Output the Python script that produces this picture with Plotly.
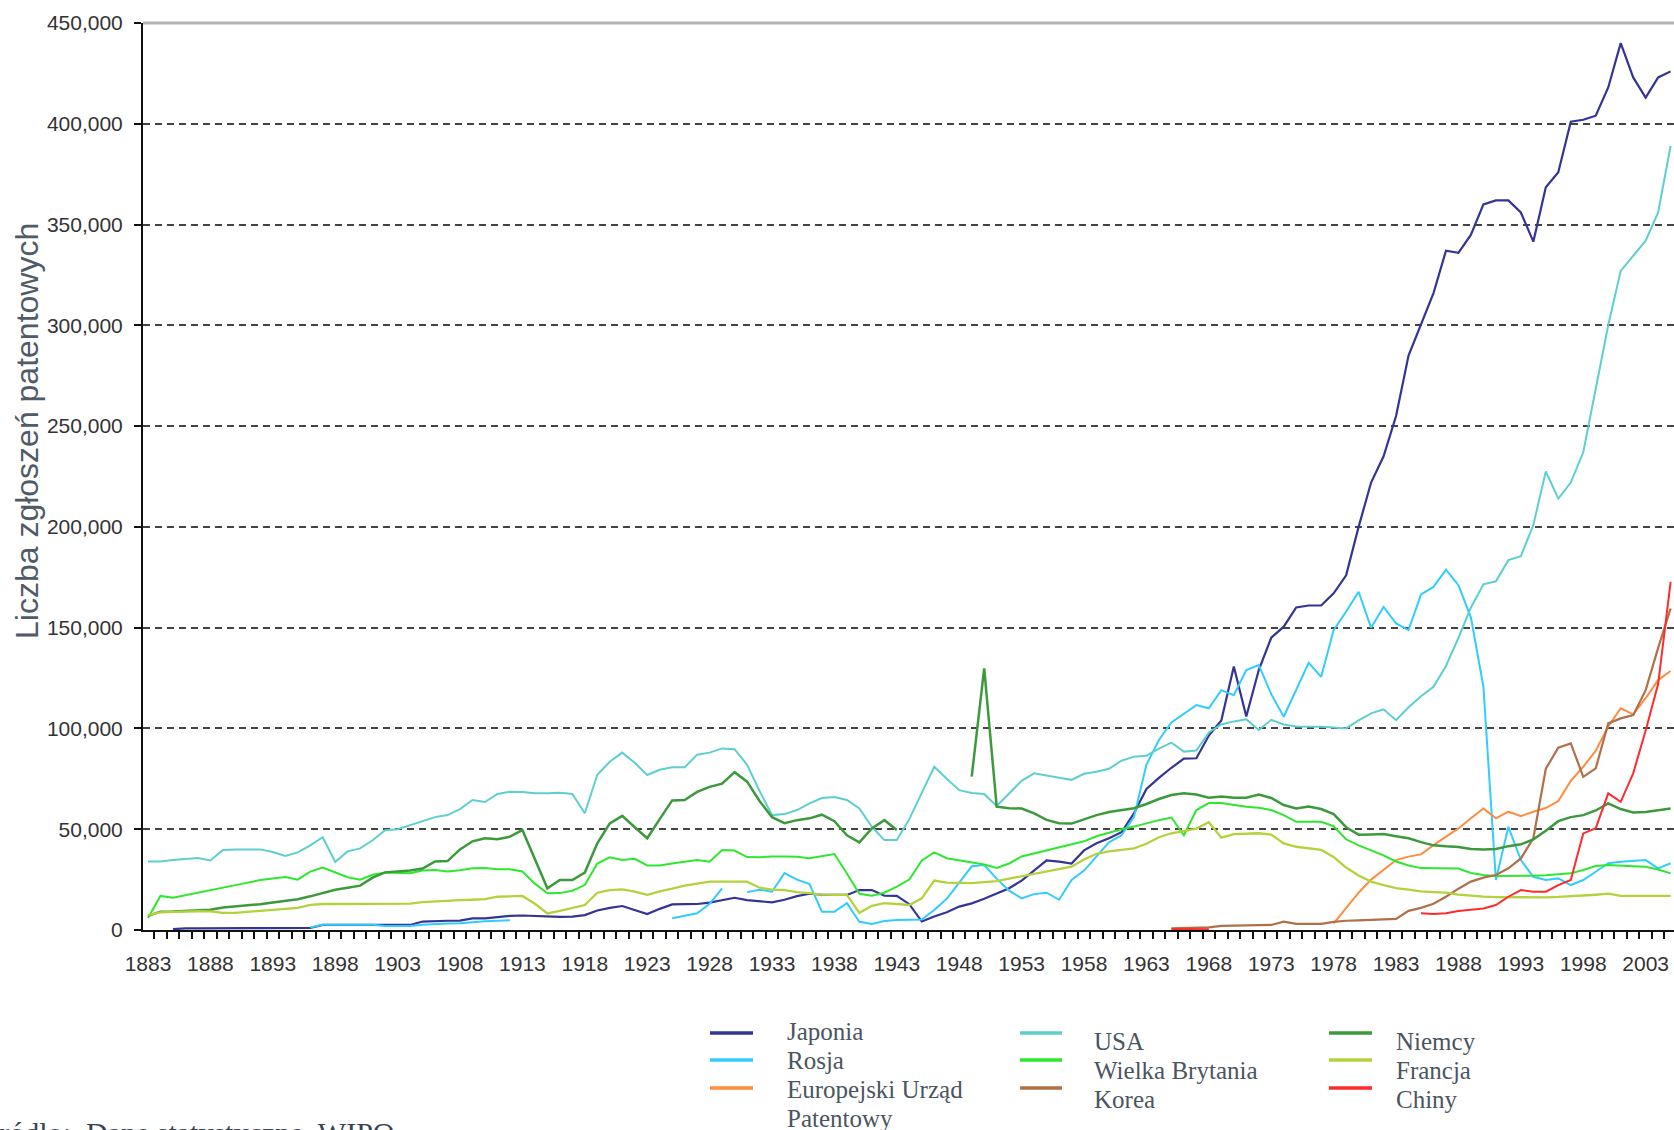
import plotly.graph_objects as go

# ---------------- DATA (patent applications, thousands) ----------------
japonia_start = 1885
japonia = [
    0.4, 0.8, 0.8, 0.9, 0.9, 0.9, 0.9, 0.9, 0.9, 0.9,          # 1885-1894
    0.9, 1.0, 2.5, 2.5, 2.5, 2.5, 2.5, 2.3, 2.3, 2.5,          # 1895-1904
    4.2, 4.5, 4.6, 4.7, 5.8, 5.8, 6.4, 7.0, 7.2, 7.0,          # 1905-1914
    6.5, 6.5, 6.6, 7.4, 9.7, 11.0, 11.9, 10.0, 7.9, 10.5,      # 1915-1924
    12.7, 12.8, 12.9, 13.6, 14.8, 16.0, 14.8, 14.2, 13.7, 15.0,  # 1925-1934
    16.8, 18.0, 17.5, 17.4, 17.4, 19.8, 19.8, 17.0, 16.9, 12.8,  # 1935-1944
    4.2, 6.7, 8.8, 11.6, 13.2, 15.5, 18.2, 20.7, 24.5, 29.5,     # 1945-1954
    34.5, 33.9, 33.0, 39.5, 43.0, 45.5, 48.5, 57.9, 70.0, 75.5,  # 1955-1964
    80.5, 85.0, 85.2, 96.5, 104.0, 130.7, 105.9, 129.0, 145.0, 150.5,  # 1965-1974
    160.0, 161.0, 161.0, 167.0, 176.0, 200.0, 222.0, 235.0, 255.0, 285.0,  # 1975-1984
    301.0, 316.0, 337.0, 336.0, 345.0, 360.0, 362.0, 362.0, 356.0, 341.5,  # 1985-1994
    368.5, 376.0, 401.0, 402.0, 404.0, 418.0, 440.0, 423.0, 413.0, 423.0,  # 1995-2004
    426.0,                                                       # 2005
]

rosja_start = 1896
rosja = [
    1.2, 2.6, 2.6, 2.6, 2.6, 2.6, 2.0, 2.0, 2.0, 2.6,           # 1896-1905
    3.0, 3.2, 3.4, 4.0, 4.4, 4.6, 4.8, None, None, None,        # 1906-1915
    None, None, None, None, None, None, None, None, None, 5.8,  # 1916-1925
    7.0, 8.3, 13.0, 20.7, None, 18.8, 20.0, 19.0, 28.2, 25.0,   # 1926-1935
    22.8, 9.1, 9.1, 13.3, 4.1, 3.0, 4.5, 5.0, 5.0, 5.2,         # 1936-1945
    9.9, 15.5, 23.5, 31.6, 32.2, 25.5, 19.5, 15.7, 17.8, 18.5,  # 1946-1955
    15.0, 24.8, 29.5, 36.5, 43.5, 47.0, 56.0, 82.0, 94.3, 103.0,  # 1956-1965
    107.5, 111.6, 110.0, 119.0, 116.5, 129.0, 131.5, 117.0, 105.8, 119.0,  # 1966-1975
    132.6, 125.6, 148.8, 158.0, 167.8, 150.0, 160.3, 152.1, 148.8, 166.5,  # 1976-1985
    170.2, 178.8, 171.1, 155.0, 120.7, 24.8, 51.2, 34.7, 26.4, 24.8,       # 1986-1995
    25.6, 22.3, 24.8, 28.9, 33.1, 33.9, 34.3, 34.7, 30.6, 33.1,            # 1996-2005
]

epo_start = 1978
epo = [
    3.3, 10.7, 18.5, 25.0, 29.8, 34.7, 36.4, 37.5, 42.1, 46.3,  # 1978-1987
    50.4, 55.4, 60.3, 55.4, 58.7, 56.5, 58.7, 60.5, 64.0, 74.0,  # 1988-1997
    81.0, 89.0, 101.0, 110.0, 107.0, 115.0, 124.0, 128.5,        # 1998-2005
]

usa_start = 1883
usa = [
    34.0, 34.0, 34.7, 35.3, 35.7, 34.5, 39.7, 40.0, 40.0, 40.0,  # 1883-1892
    38.7, 36.7, 38.5, 42.0, 46.0, 33.8, 39.0, 40.5, 44.5, 49.5,  # 1893-1902
    50.0, 52.0, 54.3, 56.0, 57.0, 60.0, 64.5, 63.5, 67.5, 68.6,  # 1903-1912
    68.5, 67.8, 67.8, 68.1, 67.5, 57.9, 77.0, 83.5, 88.0, 83.0,  # 1913-1922
    76.9, 79.5, 80.7, 80.7, 87.0, 88.0, 90.1, 89.7, 82.0, 69.0,  # 1923-1932
    57.0, 57.5, 59.5, 62.8, 65.5, 66.0, 64.5, 60.3, 51.2, 44.6,  # 1933-1942
    44.6, 55.0, 68.0, 81.0, 75.0, 69.4, 68.0, 67.5, 61.5, 68.0,  # 1943-1952
    74.0, 77.7, 76.5, 75.5, 74.5, 77.5, 78.5, 80.0, 84.0, 86.0,  # 1953-1962
    86.5, 90.0, 93.0, 88.5, 89.0, 98.0, 102.0, 103.5, 104.5, 99.2,  # 1963-1972
    104.3, 102.0, 101.0, 101.0, 100.8, 100.5, 100.0, 104.0, 107.5, 109.5,  # 1973-1982
    104.1, 110.5, 116.0, 120.7, 131.0, 145.0, 160.0, 171.5, 173.0, 183.5,  # 1983-1992
    185.5, 201.0, 227.5, 214.0, 222.0, 237.0, 268.0, 300.0, 327.0, 334.5,  # 1993-2002
    342.0, 356.0, 389.0,                                                   # 2003-2005
]

wb_start = 1883
wielka_brytania = [
    6.0, 16.9, 16.0, 17.2, 18.5, 19.8, 21.0, 22.3, 23.5, 24.8,   # 1883-1892
    25.7, 26.3, 25.0, 29.0, 31.0, 28.5, 26.2, 25.0, 27.4, 28.5,  # 1893-1902
    28.3, 28.2, 29.5, 29.8, 29.0, 29.6, 30.6, 30.8, 30.2, 30.1,  # 1903-1912
    29.0, 23.0, 18.2, 18.3, 19.5, 22.3, 33.0, 36.1, 34.7, 35.3,  # 1913-1922
    32.0, 32.0, 33.0, 33.8, 34.7, 33.9, 39.7, 39.4, 36.2, 36.1,  # 1923-1932
    36.5, 36.5, 36.3, 35.6, 36.5, 37.7, 28.0, 18.0, 17.0, 18.5,  # 1933-1942
    21.5, 25.0, 34.5, 38.5, 35.6, 34.5, 33.3, 32.5, 30.8, 33.0,  # 1943-1952
    36.5, 38.0, 39.4, 41.0, 42.2, 44.0, 46.5, 48.2, 50.0, 51.3,  # 1953-1962
    53.0, 54.5, 55.8, 47.0, 59.5, 63.0, 63.0, 62.0, 61.2, 60.6,  # 1963-1972
    59.5, 57.0, 53.7, 53.7, 53.7, 51.5, 45.0, 42.0, 39.5, 37.0,  # 1973-1982
    34.0, 32.0, 30.7, 30.6, 30.6, 30.5, 28.3, 27.3, 26.8, 26.8,  # 1983-1992
    26.8, 26.9, 27.2, 27.6, 28.1, 29.8, 31.7, 32.2, 31.8, 31.6,  # 1993-2002
    31.4, 30.0, 28.1,                                            # 2003-2005
]

korea_start = 1965
korea = [
    0.8, 0.9, 1.0, 1.3, 2.0, 2.1, 2.1, 2.1, 2.5, 4.1,            # 1965-1974
    3.0, 3.0, 3.0, 4.0, 4.6, 4.8, 5.0, 5.1, 5.5, 9.5,            # 1975-1984
    11.0, 13.0, 16.5, 20.5, 24.0, 26.0, 27.3, 30.6, 35.5, 45.5,  # 1985-1994
    80.0, 90.5, 92.6, 76.0, 80.2, 102.5, 105.0, 106.6, 119.0, 140.0,  # 1995-2004
    159.5,                                                        # 2005
]

niemcy_start = 1883
niemcy = [
    7.0, 9.1, 9.2, 9.5, 9.7, 10.0, 11.2, 11.7, 12.3, 12.8,       # 1883-1892
    13.7, 14.6, 15.3, 16.7, 18.5, 20.0, 21.0, 22.0, 26.0, 28.6,  # 1893-1902
    29.0, 29.5, 30.5, 34.0, 34.2, 40.0, 44.0, 45.5, 45.0, 46.3,  # 1903-1912
    49.6, 35.0, 20.7, 24.8, 24.8, 28.5, 43.0, 52.9, 56.6, 51.0,  # 1913-1922
    45.5, 55.0, 64.3, 64.5, 68.5, 71.0, 72.6, 78.3, 73.6, 64.0,  # 1923-1932
    56.0, 53.0, 54.5, 55.4, 57.2, 54.0, 47.0, 43.5, 50.4, 54.5,  # 1933-1942
    49.6, None, None, None, None, None, 76.1, 129.8, 61.2, 60.4, # 1943-1952
    60.3, 57.9, 54.6, 53.0, 52.8, 55.0, 57.0, 58.5, 59.5, 60.4,  # 1953-1962
    62.5, 65.0, 67.0, 67.8, 67.2, 65.6, 66.2, 65.6, 65.6, 67.2,  # 1963-1972
    65.5, 62.0, 60.3, 61.3, 60.0, 57.5, 51.0, 47.3, 47.4, 47.6,  # 1973-1982
    46.5, 45.5, 43.6, 42.0, 41.5, 41.2, 40.2, 40.0, 40.2, 41.6,  # 1983-1992
    42.5, 45.0, 49.2, 54.0, 56.0, 57.0, 59.3, 62.8, 60.0, 58.3,  # 1993-2002
    58.6, 59.3, 60.3,                                            # 2003-2005
]

francja_start = 1883
francja = [
    7.5, 8.7, 9.0, 9.2, 9.3, 9.2, 8.5, 8.5, 9.0, 9.5,            # 1883-1892
    9.8, 10.3, 11.0, 12.5, 12.9, 12.9, 12.9, 12.9, 12.9, 12.9,   # 1893-1902
    12.9, 13.1, 13.8, 14.2, 14.4, 14.8, 15.0, 15.3, 16.5, 16.8,  # 1903-1912
    16.9, 13.0, 8.2, 9.5, 11.0, 12.4, 18.5, 19.8, 20.2, 19.0,    # 1913-1922
    17.4, 19.2, 20.5, 22.0, 23.0, 24.0, 24.0, 24.0, 24.0, 21.0,  # 1923-1932
    20.0, 19.8, 18.8, 18.3, 17.6, 17.4, 17.4, 8.5, 12.0, 13.3,   # 1933-1942
    13.0, 12.4, 15.7, 24.5, 23.5, 23.3, 23.3, 23.8, 24.2, 25.5,  # 1943-1952
    26.7, 27.8, 28.9, 30.0, 31.4, 35.0, 37.8, 39.0, 39.8, 40.5,  # 1953-1962
    42.8, 46.0, 48.0, 49.2, 50.3, 53.5, 45.8, 47.6, 47.8, 48.0,  # 1963-1972
    47.3, 43.0, 41.3, 40.5, 39.7, 36.2, 31.0, 27.0, 24.0, 22.3,  # 1973-1982
    20.8, 20.0, 19.2, 18.8, 18.5, 17.6, 17.0, 16.6, 16.3, 16.2,  # 1983-1992
    16.2, 16.2, 16.2, 16.4, 16.7, 16.9, 17.5, 18.0, 16.9, 16.9,  # 1993-2002
    16.9, 16.9, 16.9,                                            # 2003-2005
]

chiny_start = 1965
chiny = [
    0.4, 0.4, 0.4, 0.4, None, None, None, None, None, None,      # 1965-1974
    None, None, None, None, None, None, None, None, None, None,  # 1975-1984
    8.3, 7.9, 8.3, 9.4, 10.0, 10.7, 12.4, 16.5, 19.8, 19.0,      # 1985-1994
    19.0, 22.3, 24.8, 47.9, 50.5, 67.8, 63.6, 77.7, 99.0, 122.0, # 1995-2004
    172.7,                                                       # 2005
]

y_ticks = [0, 50000, 100000, 150000, 200000, 250000, 300000, 350000, 400000, 450000]
x_label_years = list(range(1883, 2004, 5))

SERIES = [
    ("Japonia", japonia_start, japonia),
    ("Rosja", rosja_start, rosja),
    ("Europejski Urząd Patentowy", epo_start, epo),
    ("USA", usa_start, usa),
    ("Wielka Brytania", wb_start, wielka_brytania),
    ("Korea", korea_start, korea),
    ("Niemcy", niemcy_start, niemcy),
    ("Francja", francja_start, francja),
    ("Chiny", chiny_start, chiny),
]

# ---------------- STYLE ----------------
STYLE = {
    "Japonia": dict(color="#343497", width=2.2),
    "Rosja": dict(color="#33ccff", width=2),
    "Europejski Urząd Patentowy": dict(color="#ff8c40", width=2),
    "USA": dict(color="#5ecfcf", width=2),
    "Wielka Brytania": dict(color="#2ee82e", width=2),
    "Korea": dict(color="#b0704a", width=2.2),
    "Niemcy": dict(color="#3c9a3c", width=2.5),
    "Francja": dict(color="#b4d23c", width=2.3),
    "Chiny": dict(color="#ff2a2a", width=2),
}

W, H = 1674, 1130
ML, MR, MT, MB = 143, 0, 23, 200
PW, PH = W - ML - MR, H - MT - MB


def px_x(px):
    return (px - ML) / PW


def px_y(py):
    return (H - MB - py) / PH


fig = go.Figure()
for name, start, vals in SERIES:
    xs = list(range(start, start + len(vals)))
    ys = [None if v is None else v * 1000 for v in vals]
    st = STYLE[name]
    fig.add_trace(go.Scatter(
        x=xs, y=ys, mode="lines", name=name, showlegend=False,
        connectgaps=False,
        line=dict(color=st["color"], width=st["width"]),
    ))

tick_font = dict(family="Liberation Sans, Arial, sans-serif", size=21, color="#333333")

fig.update_layout(
    width=W, height=H,
    margin=dict(l=ML, r=MR, t=MT, b=MB, pad=0),
    paper_bgcolor="white", plot_bgcolor="white",
    showlegend=False,
    xaxis=dict(
        range=[1882.6, 2005.27],
        tickmode="array", tickvals=x_label_years,
        ticktext=[str(y) for y in x_label_years],
        ticks="outside", ticklen=7, tickcolor="rgba(0,0,0,0)",
        ticklabelstandoff=7,
        minor=dict(tickmode="linear", tick0=1882.5, dtick=1, ticks="outside",
                   ticklen=7, tickwidth=2, tickcolor="#111111", showgrid=False),
        showline=True, linecolor="#111111", linewidth=2,
        showgrid=False, zeroline=False,
        tickfont=tick_font,
    ),
    yaxis=dict(
        range=[0, 450000],
        tickmode="array", tickvals=y_ticks, tickformat=",",
        ticks="outside", ticklen=7, tickwidth=2, tickcolor="#111111",
        ticklabelstandoff=7,
        showline=True, linecolor="#111111", linewidth=2,
        showgrid=True, gridcolor="#444444", gridwidth=2, griddash="7px,5px",
        zeroline=False,
        tickfont=tick_font,
    ),
)

shapes = [
    dict(type="line", xref="paper", yref="paper", x0=0, x1=1, y0=1, y1=1,
         line=dict(color="#b4b4b4", width=3), layer="above"),
]

annotations = [
    dict(text="Liczba zgłoszeń patentowych", x=px_x(27), y=px_y(431),
         xref="paper", yref="paper", xanchor="center", yanchor="middle",
         textangle=-90, showarrow=False,
         font=dict(family="Liberation Sans, Arial, sans-serif", size=32, color="#4f5b66")),
    dict(text="Źródło:&nbsp; Dane statystyczne&nbsp; WIPO", x=px_x(397), y=px_y(1114),
         xref="paper", yref="paper", xanchor="right", yanchor="top",
         showarrow=False,
         font=dict(family="Liberation Serif, Times New Roman, serif", size=30, color="#3a4450")),
]

# custom three-column legend
legend_cols = [
    dict(names=["Japonia", "Rosja", "Europejski Urząd Patentowy"],
         line_x=(710, 753), text_x=785, line_y=[1033, 1060, 1088], text_y=[1031, 1060, 1089]),
    dict(names=["USA", "Wielka Brytania", "Korea"],
         line_x=(1020, 1062), text_x=1092, line_y=[1033, 1060, 1088], text_y=[1041, 1070, 1099]),
    dict(names=["Niemcy", "Francja", "Chiny"],
         line_x=(1329, 1372), text_x=1394, line_y=[1033, 1060, 1088], text_y=[1041, 1070, 1099]),
]
legend_font = dict(family="Liberation Serif, Times New Roman, serif", size=25, color="#4a5560")
for col in legend_cols:
    for name, ly, ty in zip(col["names"], col["line_y"], col["text_y"]):
        shapes.append(dict(type="line", xref="paper", yref="paper",
                           x0=px_x(col["line_x"][0]), x1=px_x(col["line_x"][1]),
                           y0=px_y(ly), y1=px_y(ly),
                           line=dict(color=STYLE[name]["color"], width=3.5)))
        lines = ["Europejski Urząd", "Patentowy"] if name.startswith("Europejski") else [name]
        for i, txt in enumerate(lines):
            annotations.append(dict(text=txt, x=px_x(col["text_x"]), y=px_y(ty + 29 * i),
                                    xref="paper", yref="paper", xanchor="left",
                                    yanchor="middle", showarrow=False, font=legend_font))

fig.update_layout(shapes=shapes, annotations=annotations)

fig.write_html(
    "out.html",
    config={"displayModeBar": False},
    post_script="document.body.style.margin='0px'; document.body.style.overflow='hidden';",
)
